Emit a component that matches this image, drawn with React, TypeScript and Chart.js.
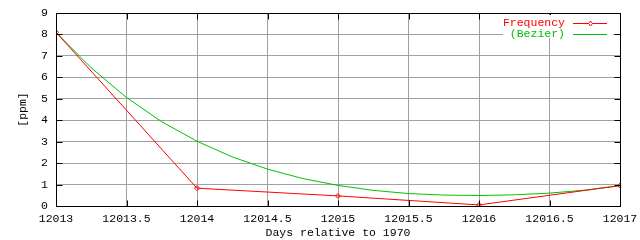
import React, { useEffect, useRef } from "react";
import { Chart, registerables } from "chart.js";

Chart.register(...registerables);

const days = [12013, 12014, 12015, 12016, 12017];
const frequency = [8.1, 0.83, 0.47, 0.05, 0.95];

const bezierDays = [
  12013, 12013.25, 12013.5, 12013.75, 12014, 12014.25, 12014.5, 12014.75, 12015,
  12015.25, 12015.5, 12015.75, 12016, 12016.25, 12016.5, 12016.75, 12017,
];
const bezier = [
  8.1, 6.44, 5.06, 3.93, 3.02, 2.29, 1.72, 1.28, 0.96, 0.73, 0.58, 0.51, 0.49,
  0.52, 0.6, 0.74, 0.95,
];

const xTicks = [12013, 12013.5, 12014, 12014.5, 12015, 12015.5, 12016, 12016.5, 12017];
const yTicks = [0, 1, 2, 3, 4, 5, 6, 7, 8, 9];

const xTitle = "Days relative to 1970";
const yTitle = "[ppm]";
const seriesNames = ["Frequency", "(Bezier)"];

const RED = "#ff0000";
const GREEN = "#00c000";
const GRID = "#a0a0a0";
const FONT = "Liberation Mono";
const FONT_SIZE = 11.5;

const framePlugin = {
  id: "frame",
  afterDatasetsDraw(chart: any) {
    const { ctx, chartArea } = chart;
    const xs = chart.scales.x;
    const ys = chart.scales.y;
    const L = chartArea.left, R = chartArea.right, T = chartArea.top, B = chartArea.bottom;
    ctx.save();
    ctx.strokeStyle = "#000";
    ctx.lineWidth = 1;
    ctx.beginPath();
    for (const v of xTicks) {
      const px = Math.round(xs.getPixelForValue(v)) + 0.5;
      ctx.moveTo(px, B + 0.5);
      ctx.lineTo(px, B + 0.5 - 6);
      ctx.moveTo(px, T + 0.5);
      ctx.lineTo(px, T + 0.5 + 6);
    }
    for (const v of yTicks) {
      const py = Math.round(ys.getPixelForValue(v)) + 0.5;
      ctx.moveTo(L + 0.5, py);
      ctx.lineTo(L + 0.5 + 6, py);
      ctx.moveTo(R + 0.5, py);
      ctx.lineTo(R + 0.5 - 6, py);
    }
    ctx.stroke();
    ctx.strokeRect(L + 0.5, T + 0.5, R - L, B - T);

    const colors = [RED, GREEN];
    ctx.fillStyle = "#fff";
    ctx.fillRect(503, 15, 110, 23);
    ctx.font = `${FONT_SIZE}px "${FONT}"`;
    ctx.textAlign = "right";
    ctx.textBaseline = "middle";
    seriesNames.forEach((name, i) => {
      const y = 23 + i * 11;
      ctx.fillStyle = colors[i];
      ctx.fillText(name, 565, y);
      ctx.strokeStyle = colors[i];
      ctx.beginPath();
      ctx.moveTo(573, y + 0.5);
      ctx.lineTo(607, y + 0.5);
      ctx.stroke();
      if (i === 0) {
        ctx.beginPath();
        ctx.moveTo(590.5, y - 2);
        ctx.lineTo(592.5, y + 0.5);
        ctx.lineTo(590.5, y + 3);
        ctx.lineTo(588.5, y + 0.5);
        ctx.closePath();
        ctx.fillStyle = "#fff";
        ctx.fill();
        ctx.stroke();
      }
    });

    ctx.fillStyle = "#000";
    ctx.textAlign = "center";
    ctx.fillText(xTitle, (L + R) / 2, 233);
    ctx.translate(23, (T + B) / 2);
    ctx.rotate(-Math.PI / 2);
    ctx.fillText(yTitle, 0, 0);
    ctx.restore();
  },
};

export default function App() {
  const ref = useRef<HTMLCanvasElement>(null);
  useEffect(() => {
    if (!ref.current) return;
    const chart = new Chart(ref.current, {
      type: "line",
      data: {
        datasets: [
          {
            label: seriesNames[0],
            data: days.map((d, i) => ({ x: d, y: frequency[i] })),
            borderColor: RED,
            backgroundColor: "rgba(0,0,0,0)",
            borderWidth: 1,
            pointStyle: "rectRot",
            pointRadius: 2.5,
            pointBorderColor: RED,
            pointBorderWidth: 1,
            tension: 0,
          },
          {
            label: seriesNames[1],
            data: bezierDays.map((d, i) => ({ x: d, y: bezier[i] })),
            borderColor: GREEN,
            borderWidth: 1,
            pointRadius: 0,
            tension: 0,
          },
        ],
      },
      options: {
        responsive: false,
        animation: false,
        devicePixelRatio: 1,
        layout: { padding: { top: 13, right: 20, left: 0, bottom: 0 } },
        plugins: { legend: { display: false }, tooltip: { enabled: false } },
        scales: {
          x: {
            type: "linear",
            min: 12013,
            max: 12017,
            afterFit: (s: any) => {
              s.height = 34;
              s.paddingLeft = 0;
              s.paddingRight = 0;
            },
            afterBuildTicks: (s: any) => { s.ticks = xTicks.map((v) => ({ value: v })); },
            ticks: {
              color: "#000",
              font: { family: FONT, size: FONT_SIZE },
              padding: 6,
              maxRotation: 0,
              autoSkip: false,
              callback: (v: any) => String(v),
            },
            grid: { color: GRID, drawTicks: false, lineWidth: 1 },
            border: { display: false },
          },
          y: {
            type: "linear",
            min: 0,
            max: 9,
            afterFit: (s: any) => {
              s.width = 56;
              s.paddingTop = 0;
              s.paddingBottom = 0;
            },
            afterBuildTicks: (s: any) => { s.ticks = yTicks.map((v) => ({ value: v })); },
            ticks: {
              color: "#000",
              font: { family: FONT, size: FONT_SIZE },
              padding: 8,
              autoSkip: false,
              callback: (v: any) => String(v),
            },
            grid: { color: GRID, drawTicks: false, lineWidth: 1 },
            border: { display: false },
          },
        },
      },
      plugins: [framePlugin],
    });
    return () => chart.destroy();
  }, []);
  return (
    <div style={{ position: "absolute", left: 0, top: 0, width: 640, height: 240, background: "#fff" }}>
      <canvas ref={ref} width={640} height={240} />
    </div>
  );
}
